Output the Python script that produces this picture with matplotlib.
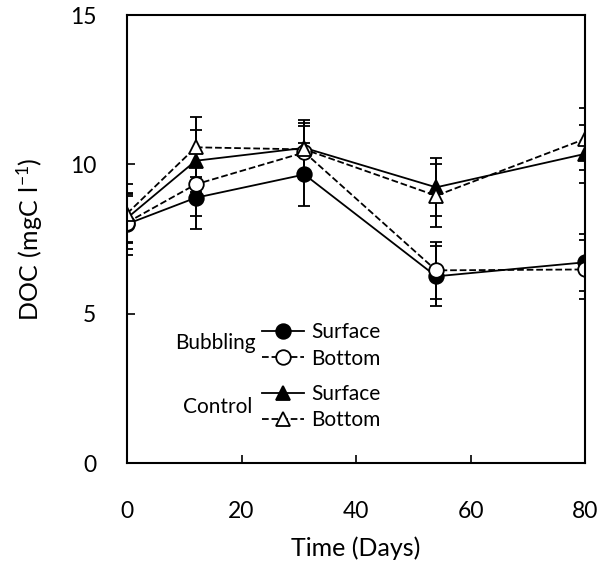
import matplotlib
matplotlib.use('Agg')
import matplotlib.pyplot as plt
from matplotlib.lines import Line2D

plt.rcParams['font.family'] = ['Lato', 'DejaVu Sans']
plt.rcParams['mathtext.fontset'] = 'custom'
plt.rcParams['mathtext.rm'] = 'Lato'

# sampling days
days = [0, 12, 31, 54, 80]

# DOC (mgC/l) and error bars
bub_surface = [8.0, 8.88, 9.66, 6.25, 6.72]
bub_surface_err = [1.05, 1.06, 1.04, 1.0, 0.95]
bub_bottom = [8.05, 9.33, 10.4, 6.45, 6.48]
bub_bottom_err = [0.9, 1.07, 0.9, 0.95, 1.0]
ctl_surface = [8.2, 10.12, 10.55, 9.23, 10.35]
ctl_surface_err = [0.8, 1.03, 0.85, 0.97, 0.97]
ctl_bottom = [8.35, 10.57, 10.5, 8.95, 10.85]
ctl_bottom_err = [1.0, 1.0, 1.0, 1.05, 1.03]

fig = plt.figure(figsize=(6.1, 5.63), dpi=100)
ax = fig.add_axes([127 / 610, 1 - 463 / 563, 458 / 610, 448 / 563])

common = dict(color='black', ecolor='black', elinewidth=1.4, capsize=4.5, capthick=1.4,
              linewidth=1.3, markersize=10.5, markeredgewidth=1.3, markeredgecolor='black')

ax.errorbar(days, bub_surface, yerr=bub_surface_err, fmt='o-', markerfacecolor='black', **common)
ax.errorbar(days, ctl_surface, yerr=ctl_surface_err, fmt='^-', markerfacecolor='black', **common)
ax.errorbar(days, bub_bottom, yerr=bub_bottom_err, fmt='o--', markerfacecolor='white', **common)
ax.errorbar(days, ctl_bottom, yerr=ctl_bottom_err, fmt='^--', markerfacecolor='white', **common)

ax.set_xlim(0, 80)
ax.set_ylim(0, 15)
ax.set_xticks([0, 20, 40, 60, 80])
ax.set_yticks([0, 5, 10, 15])
ax.tick_params(direction='in', length=6, width=1.2, labelsize=16.5)
ax.tick_params(axis='x', pad=27)
ax.tick_params(axis='y', pad=22)
for sp in ax.spines.values():
    sp.set_linewidth(1.5)

ax.set_xlabel('Time (Days)', fontsize=18, labelpad=11)
ax.set_ylabel(r'$\mathregular{DOC\ (mgC\ l^{-1})}$', fontsize=18, labelpad=18)

hkw = dict(color='black', linewidth=1.3, markersize=10.5, markeredgewidth=1.3, markeredgecolor='black')
h_bs = Line2D([], [], marker='o', linestyle='-', markerfacecolor='black', **hkw)
h_bb = Line2D([], [], marker='o', linestyle='--', markerfacecolor='white', **hkw)
h_cs = Line2D([], [], marker='^', linestyle='-', markerfacecolor='black', **hkw)
h_cb = Line2D([], [], marker='^', linestyle='--', markerfacecolor='white', **hkw)

lkw = dict(frameon=False, fontsize=15, handlelength=2.0, handletextpad=0.35, labelspacing=0.3,
           borderpad=0, borderaxespad=0, loc='upper left')
leg1 = ax.legend([h_bs, h_bb], ['Surface', 'Bottom'], bbox_to_anchor=(0.295, 0.314), **lkw)
ax.add_artist(leg1)
ax.legend([h_cs, h_cb], ['Surface', 'Bottom'], bbox_to_anchor=(0.295, 0.176), **lkw)

ax.text(0.282, 0.268, 'Bubbling', transform=ax.transAxes, ha='right', va='center', fontsize=15)
ax.text(0.273, 0.125, 'Control', transform=ax.transAxes, ha='right', va='center', fontsize=15)

fig.savefig('out.png', dpi=100)
